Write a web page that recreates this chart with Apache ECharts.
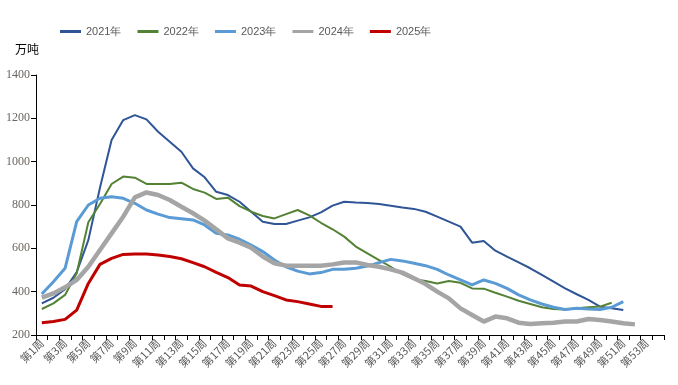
<!DOCTYPE html>
<html>
<head>
<meta charset="utf-8">
<script src="https://cdn.jsdelivr.net/npm/echarts@6/dist/echarts.min.js"></script>
<style>html,body{margin:0;padding:0;background:#fff}#c{width:678px;height:385px}</style>
</head>
<body>
<div id="c"></div>
<script>
var weeks = [];
for (var i = 1; i <= 54; i++) weeks.push('第' + i + '周');

var s2021 = [346,372,411,490,638,880,1100,1192,1215,1195,1138,1092,1046,969,928,861,846,815,769,723,712,712,728,743,766,797,815,811,809,805,797,788,782,769,746,723,700,626,634,589,562,535,508,477,446,415,388,362,331,323,315];
var s2022 = [320,346,385,485,720,805,897,931,926,897,897,897,903,874,857,828,834,795,769,749,738,758,777,752,718,688,654,608,577,546,515,481,457,449,438,449,441,415,414,395,377,358,343,328,320,318,323,328,331,349];
var s2023 = [389,446,508,723,800,831,838,831,808,777,758,742,737,731,708,669,662,642,615,585,546,515,495,482,488,503,503,508,518,534,549,542,531,520,503,477,454,431,454,438,415,385,362,343,328,318,323,320,318,328,354];
var s2024 = [372,392,420,454,515,592,669,746,835,858,846,823,792,762,728,688,646,626,603,562,531,520,520,520,520,526,535,535,523,515,503,488,462,435,400,369,323,292,262,285,277,257,251,254,257,262,262,274,269,262,254,249];
var s2025 = [257,262,272,315,438,526,554,572,574,574,569,562,552,534,515,489,465,431,426,400,382,362,354,343,332,332];

var names = ['2021年','2022年','2023年','2024年','2025年'];
var colors = ['#2F5597','#548235','#5B9BD5','#A5A5A5','#C00000'];
var widths = [2, 2, 3, 4.5, 3];
var datas = [s2021, s2022, s2023, s2024, s2025];

var series = names.map(function (n, k) {
  return {
    name: n, type: 'line', data: datas[k], showSymbol: false, symbol: 'none',
    smooth: false,
    lineStyle: { color: colors[k], width: widths[k] },
    itemStyle: { color: colors[k] }
  };
});

var chart = echarts.init(document.getElementById('c'));
chart.setOption({
  animation: false,
  backgroundColor: '#fff',
  title: {
    text: '万吨', left: 10, top: 38,
    textStyle: { fontSize: 12, fontWeight: 'normal', color: '#000', fontFamily: 'Noto Sans CJK SC' }
  },
  legend: {
    top: 21, left: 55, itemGap: 16, itemWidth: 21, itemHeight: 3, icon: 'rect',
    textStyle: { fontSize: 11, color: '#595959', fontFamily: 'Liberation Sans' },
    data: names
  },
  grid: { left: 36, right: 14, top: 75, bottom: 50, containLabel: false },
  xAxis: {
    type: 'category', data: weeks, boundaryGap: true,
    axisLine: { lineStyle: { color: '#000', width: 1 } },
    axisTick: { show: true, interval: 0, length: 5, lineStyle: { color: '#000' } },
    axisLabel: { interval: 1, rotate: 45, fontSize: 11, color: '#595959', margin: 6, fontFamily: 'Noto Sans CJK SC' },
    splitLine: { show: false }
  },
  yAxis: {
    type: 'value', min: 200, max: 1400, interval: 200,
    axisLine: { show: true, lineStyle: { color: '#000', width: 1 } },
    axisTick: { show: true, length: 5, lineStyle: { color: '#000' } },
    axisLabel: { fontSize: 12, color: '#6b6560', margin: 6, fontFamily: 'Liberation Serif',
      formatter: function (v) { return String(v); } },
    splitLine: { show: false }
  },
  series: series
});
</script>
</body>
</html>
